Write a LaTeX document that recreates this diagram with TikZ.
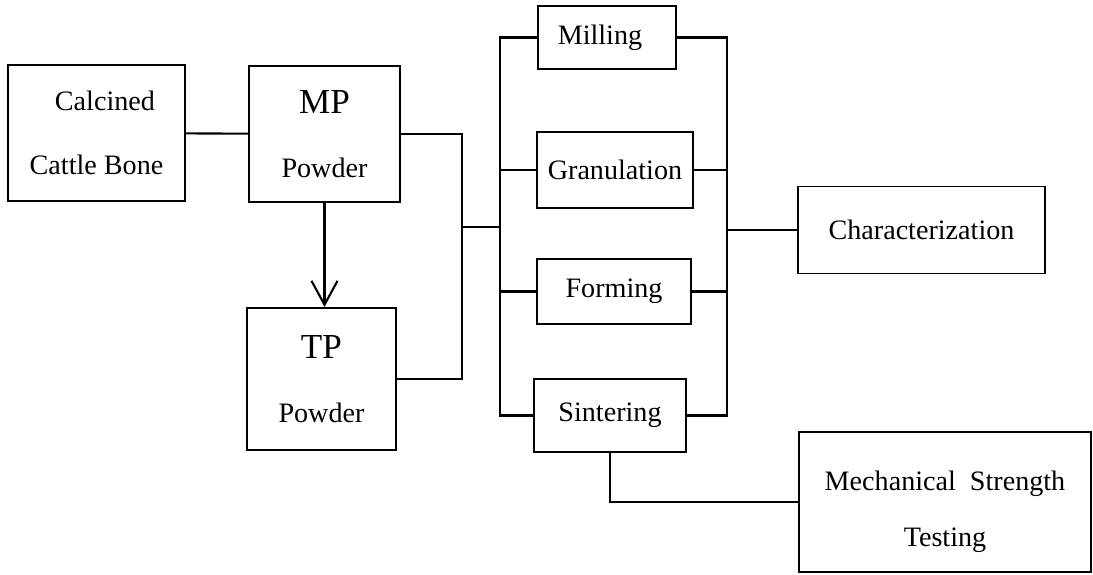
\documentclass[tikz,border=0pt]{standalone}
\usepackage{fontspec}
\setmainfont{Liberation Serif}
\usetikzlibrary{arrows.meta}

\begin{document}
\begin{tikzpicture}[x=0.025cm,y=-0.025cm]
\tikzstyle{every node}+=[inner sep=0pt]
\tikzstyle{block}=[draw=black, line width=1.4pt, align=center, font=\fontsize{20}{45}\selectfont]
\tikzstyle{wire}=[draw=black, line width=1.5pt]
\useasboundingbox (0,0) rectangle (1093,574);
% boxes
\node [block, minimum width=177*0.025cm, minimum height=136*0.025cm] (bone) at (96.5,133) {\hspace*{12pt}Calcined\\Cattle Bone};
\node [block, minimum width=151*0.025cm, minimum height=136*0.025cm] (mp) at (324.5,134) {{\fontsize{25}{45}\selectfont MP}\\Powder};
\node [block, minimum width=149*0.025cm, minimum height=142*0.025cm] (tp) at (321.5,379) {{\fontsize{25}{45}\selectfont TP}\\Powder};
\node [block, minimum width=138*0.025cm, minimum height=63*0.025cm] (mill) at (607,37.5) {Milling\hspace*{10pt}};
\node [block, minimum width=156*0.025cm, minimum height=76*0.025cm] (gran) at (615,170) {Granulation};
\node [block, minimum width=154*0.025cm, minimum height=65*0.025cm] (form) at (614,291.5) {Forming};
\node [block, minimum width=152*0.025cm, minimum height=73*0.025cm] (sint) at (610,415.5) {Sintering};
\node [block, minimum width=247*0.025cm, minimum height=87*0.025cm] (char) at (921.5,230) {Characterization};
\node [block, minimum width=292*0.025cm, minimum height=140*0.025cm, font=\fontsize{20}{40}\selectfont] (mech) at (945,502) {\rule{0pt}{28pt}Mechanical\ \ Strength\\Testing};
% junctions
\coordinate (mrg) at (462,227);
\coordinate (lbus) at (500,227);
\coordinate (rbus) at (727,230);
% connections
\draw [wire] (bone) -- (mp);
\draw [wire, -{Straight Barb[length=0.6cm, width=0.65cm]}] (mp.south) -- (mp.south |- tp.north);
\draw [wire] (mp.east) -| (mrg) |- (tp.east);
\draw [wire] (mrg) -- (lbus);
\draw [wire] (mill.west) -| (lbus) |- (sint.west);
\draw [wire] (gran.west) -- (gran.west -| lbus);
\draw [wire] (form.west) -- (form.west -| lbus);
\draw [wire] (mill.east) -| (rbus) |- (sint.east);
\draw [wire] (gran.east) -- (gran.east -| rbus);
\draw [wire] (form.east) -- (form.east -| rbus);
\draw [wire] (rbus) -- (char.west);
\draw [wire] (sint.south) |- (mech.west);
\end{tikzpicture}
\end{document}
